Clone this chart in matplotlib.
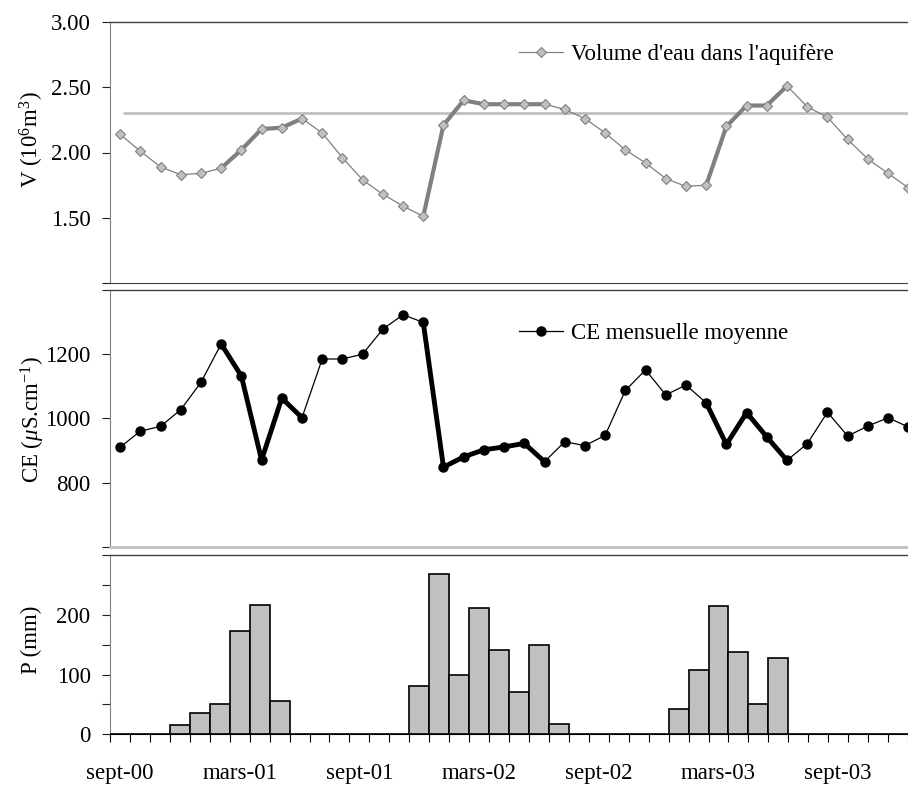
import numpy as np
import matplotlib
matplotlib.use("Agg")
import matplotlib.pyplot as plt

plt.rcParams['font.family'] = ['Liberation Serif', 'DejaVu Serif']
plt.rcParams['mathtext.fontset'] = 'custom'
plt.rcParams['mathtext.rm'] = 'Liberation Serif'
plt.rcParams['mathtext.it'] = 'Liberation Serif:italic'

# mois de sept-00 à déc-03 (40 mois), étiquettes tous les 6 mois
etiquettes = ['sept-00', 'mars-01', 'sept-01', 'mars-02', 'sept-02', 'mars-03', 'sept-03']

# volume d'eau dans l'aquifère (10^6 m3)
volume = [2.14, 2.01, 1.89, 1.83, 1.84, 1.88, 2.02, 2.18, 2.19, 2.26,
          2.15, 1.96, 1.79, 1.68, 1.59, 1.51, 2.21, 2.40, 2.37, 2.37,
          2.37, 2.37, 2.33, 2.26, 2.15, 2.02, 1.92, 1.80, 1.74, 1.75,
          2.20, 2.36, 2.36, 2.51, 2.35, 2.27, 2.10, 1.95, 1.84, 1.73]
volume_seuil = 2.30

# conductivité électrique mensuelle moyenne (µS/cm)
ce = [910, 960, 975, 1027, 1112, 1232, 1132, 870, 1063, 1002,
      1185, 1185, 1200, 1278, 1323, 1299, 848, 880, 902, 911,
      922, 865, 927, 915, 947, 1087, 1151, 1073, 1104, 1048,
      919, 1018, 942, 869, 921, 1019, 945, 976, 1002, 973]

# précipitations (mm)
pluie = [0, 0, 0, 16, 35, 50, 173, 217, 56, 0,
         0, 0, 0, 0, 0, 81, 269, 99, 211, 141,
         70, 149, 18, 0, 0, 0, 0, 0, 43, 107,
         214, 138, 51, 127, 0, 0, 0, 0, 0, 0]

# périodes de recharge (indices début, fin) tracées en gras
recharges = [(5, 9), (15, 21), (29, 33)]

n = len(volume)
x = np.arange(n)
W, H = 908, 785
fs = 16.5

fig = plt.figure(figsize=(W / 100, H / 100), dpi=100)

def axe(top, bottom):
    return fig.add_axes([110 / W, (H - bottom) / H, 1 - 110 / W, (bottom - top) / H])

ax1 = axe(22, 283)
ax2 = axe(290, 546.7)
ax3 = axe(555, 734.3)

for ax in (ax1, ax2, ax3):
    ax.set_xlim(-0.5, -0.5 + 798 / 20.21)
    ax.spines['right'].set_visible(False)
    ax.spines['left'].set_color('#808080')
    ax.spines['left'].set_linewidth(0.8)
    ax.spines['top'].set_color('#404040')
    ax.spines['top'].set_linewidth(1.0)
    ax.tick_params(axis='y', direction='out', length=6, width=0.8, color='#202020',
                   labelsize=fs, pad=8)

# --- volume
ax1.hlines(volume_seuil, 0.15, n, color='#C0C0C0', lw=2.0, zorder=2)
for a, b in recharges:
    ax1.plot(x[a:b + 1], volume[a:b + 1], color='#808080', lw=3.0, zorder=3,
             solid_capstyle='round')
ax1.plot(x, volume, color='#808080', lw=0.9, marker='D', ms=5.5, mfc='#C0C0C0',
         mec='#808080', mew=0.8, zorder=4, label="Volume d'eau dans l'aquifère")
ax1.set_ylim(1.0, 3.0)
ax1.set_yticks([1.0, 1.5, 2.0, 2.5, 3.0])
ax1.set_yticklabels(['', '1.50', '2.00', '2.50', '3.00'])
ax1.set_xticks([])
ax1.spines['bottom'].set_color('#404040')
ax1.legend(loc='center left', bbox_to_anchor=(0.513, 0.874), frameon=False,
           fontsize=fs, handlelength=1.9, handletextpad=0.35, borderpad=0, borderaxespad=0)

# --- conductivité
for a, b in recharges:
    ax2.plot(x[a:b + 1], ce[a:b + 1], color='black', lw=3.5, zorder=3,
             solid_capstyle='round')
ax2.plot(x, ce, color='black', lw=0.9, marker='o', ms=6.5, zorder=4,
         label='CE mensuelle moyenne')
ax2.set_ylim(600, 1400)
ax2.set_yticks(range(600, 1401, 200))
ax2.set_yticklabels(['', '800', '1000', '1200', ''])
ax2.set_xticks([])
ax2.spines['bottom'].set_color('#C0C0C0')
ax2.spines['bottom'].set_linewidth(2.0)
ax2.legend(loc='center left', bbox_to_anchor=(0.513, 0.829), frameon=False,
           fontsize=fs, handlelength=1.9, handletextpad=0.35, borderpad=0, borderaxespad=0)

# --- pluie
ax3.bar(x, pluie, width=1.0, color='#C0C0C0', edgecolor='black', linewidth=1.2, zorder=3)
ax3.set_ylim(0, 300)
ax3.set_yticks(range(0, 301, 50))
ax3.set_yticklabels(['0', '', '100', '', '200', '', ''])
ax3.spines['bottom'].set_color('black')
ax3.set_xticks(np.arange(n + 1) - 0.5)
ax3.set_xticklabels([])
ax3.tick_params(axis='x', which='major', direction='out', length=6, width=0.8, color='black')
ax3.set_xticks(np.arange(0, n, 6), minor=True)
ax3.set_xticklabels(etiquettes, minor=True)
ax3.tick_params(axis='x', which='minor', length=0, labelsize=fs, pad=21)

# étiquettes des axes
fig.text(32 / W, (H - 140) / H, r'V (10$^6$m$^3$)', rotation=90, ha='center', va='center', fontsize=fs)
fig.text(33 / W, (H - 420) / H, r'CE ($\mu$S.cm$^{-1}$)', rotation=90, ha='center', va='center', fontsize=fs)
fig.text(31 / W, (H - 640) / H, 'P (mm)', rotation=90, ha='center', va='center', fontsize=fs)

fig.savefig('out.png', dpi=100)
